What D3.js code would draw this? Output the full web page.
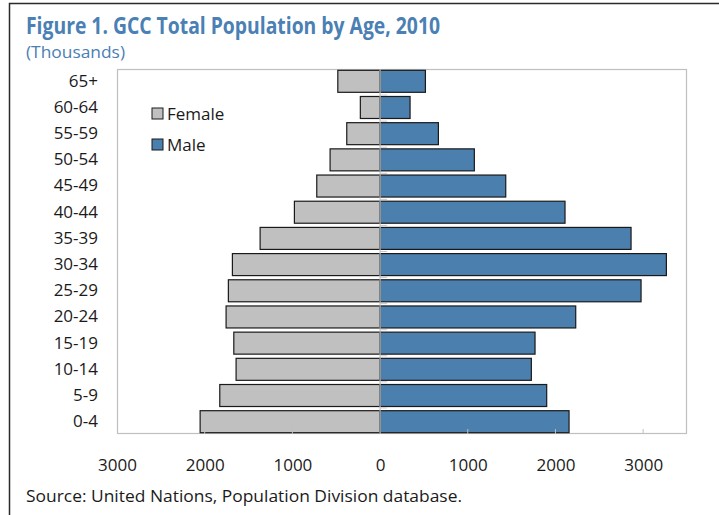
<!DOCTYPE html>
<html><head><meta charset="utf-8">
<script src="https://cdn.jsdelivr.net/npm/d3@7"></script>
<style>
html,body{margin:0;padding:0;background:#fff;}
text{font-family:"Open Sans","Noto Sans",sans-serif;}
</style></head>
<body><svg id="c" width="719" height="515"></svg>
<script>
const ageGroups = ["65+","60-64","55-59","50-54","45-49","40-44","35-39","30-34","25-29","20-24","15-19","10-14","5-9","0-4"];
const female = [482,225,380,570,722,977,1368,1684,1730,1756,1668,1642,1828,2052];
const male   = [517,342,665,1075,1433,2109,2862,3265,2976,2231,1767,1725,1900,2155];
const xTicks = [-3000,-2000,-1000,0,1000,2000,3000];
const titleText = "Figure 1. GCC Total Population by Age, 2010";
const subtitleText = "(Thousands)";
const sourceText = "Source: United Nations, Population Division database.";
const seriesNames = ["Female","Male"];

const svg = d3.select("#c");
const blue = "#4a7fae", grey = "#c0c0c0", titleBlue = "#4a80b4";
const L = 117, R = 687, T = 69, B = 434;

// outer frame
svg.append("path").attr("d","M9.5,515 V3.5 H719").attr("fill","none").attr("stroke","#2a2a2a").attr("stroke-width",1.5);

svg.append("text").attr("x",26).attr("y",34).attr("fill",titleBlue).attr("font-weight","bold")
  .attr("font-size",22.5).attr("textLength",414).attr("lengthAdjust","spacingAndGlyphs").text(titleText);
svg.append("text").attr("x",26).attr("y",58).attr("fill",titleBlue)
  .attr("font-size",16.5).attr("textLength",99).attr("lengthAdjust","spacingAndGlyphs").text(subtitleText);

const x = d3.scaleLinear().domain([-3000,3500]).range([L,R]);
const y = d3.scaleBand().domain(ageGroups).range([T,B]).paddingInner(0.16).paddingOuter(0.05);

// plot border
svg.append("rect").attr("x",L+0.5).attr("y",T+0.5).attr("width",R-L-1).attr("height",B-T-1)
  .attr("fill","none").attr("stroke","#bfbfbf").attr("stroke-width",1.2);

const data = ageGroups.map((a,i)=>({a,f:female[i],m:male[i]}));
svg.append("g").selectAll("rect").data(data).join("rect")
  .attr("x",d=>x(-d.f)).attr("y",d=>y(d.a)).attr("width",d=>x(0)-x(-d.f)).attr("height",y.bandwidth())
  .attr("fill",grey).attr("stroke","#1a1a1a").attr("stroke-width",1.2);
svg.append("g").selectAll("rect").data(data).join("rect")
  .attr("x",x(0)).attr("y",d=>y(d.a)).attr("width",d=>x(d.m)-x(0)).attr("height",y.bandwidth())
  .attr("fill",blue).attr("stroke","#1a1a1a").attr("stroke-width",1.2);

// zero axis line and category ticks
svg.append("line").attr("x1",x(0)).attr("x2",x(0)).attr("y1",T).attr("y2",B).attr("stroke","#bfbfbf").attr("stroke-width",1.2);
svg.append("g").selectAll("line").data(d3.range(1,ageGroups.length)).join("line")
  .attr("x1",x(0)).attr("x2",x(0)+7).attr("y1",i=>T+i*(B-T)/ageGroups.length).attr("y2",i=>T+i*(B-T)/ageGroups.length)
  .attr("stroke","#c8c8c8").attr("stroke-width",1);

// x axis
const xAxis = d3.axisBottom(x).tickValues(xTicks).tickSize(0).tickPadding(0).tickFormat(d=>Math.abs(d));
const gx = svg.append("g").attr("transform",`translate(0,${B})`).call(xAxis);
gx.select(".domain").remove();
gx.selectAll("text").attr("y",37).attr("dy",0).attr("font-size",17).attr("fill","#1a1a1a").attr("font-family","'Open Sans',sans-serif");
// inner tick marks
svg.append("g").selectAll("line").data(xTicks.filter(d=>d!==0 && d!==-3000)).join("line")
  .attr("x1",d=>x(d)).attr("x2",d=>x(d)).attr("y1",B).attr("y2",B-5).attr("stroke","#bfbfbf").attr("stroke-width",1);

// y axis labels
const yAxis = d3.axisLeft(y).tickSize(0).tickPadding(0);
const gy = svg.append("g").attr("transform",`translate(98,0)`).call(yAxis);
gy.select(".domain").remove();
gy.selectAll("text").attr("font-size",17).attr("fill","#1a1a1a").attr("font-family","'Open Sans',sans-serif");

// legend
const leg = svg.append("g");
[[grey,108],[blue,139]].forEach((c,i)=>{
  leg.append("rect").attr("x",152).attr("y",c[1]).attr("width",11).attr("height",11)
    .attr("fill",c[0]).attr("stroke","#1a1a1a").attr("stroke-width",1);
  leg.append("text").attr("x",167).attr("y",c[1]+12).attr("font-size",17).attr("fill","#1a1a1a").text(seriesNames[i]);
});

svg.append("text").attr("x",26).attr("y",502).attr("font-size",16.5).attr("fill","#1a1a1a")
  .attr("textLength",436).attr("lengthAdjust","spacingAndGlyphs").text(sourceText);
</script></body></html>
